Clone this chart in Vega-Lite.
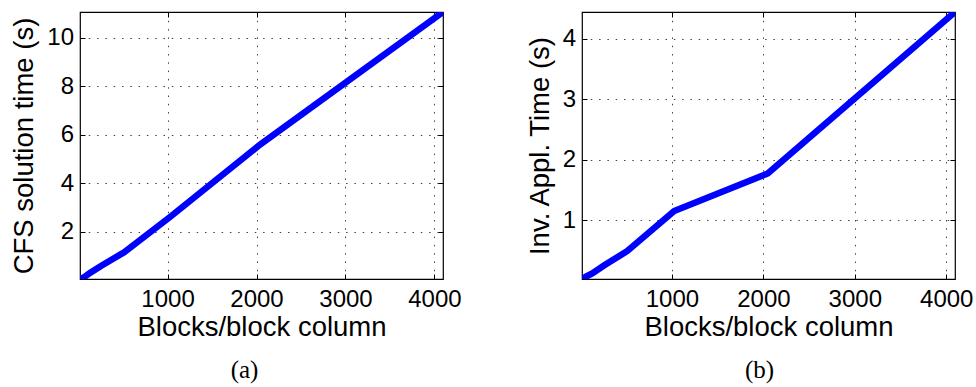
{
  "$schema": "https://vega.github.io/schema/vega-lite/v6.json",
  "padding": {"left": 10, "top": 10, "right": 2, "bottom": 0},
  "background": "white",
  "config": {
    "view": {"stroke": "black", "strokeWidth": 1.2},
    "font": "Liberation Sans",
    "axis": {
      "labelFont": "Liberation Sans",
      "labelFontSize": 24,
      "labelColor": "black",
      "titleFont": "Liberation Sans",
      "titleFontSize": 27.5,
      "titleFontWeight": "normal",
      "titleColor": "black",
      "domain": false,
      "ticks": true,
      "tickSize": -5,
      "tickColor": "black",
      "grid": true,
      "gridColor": "#444444",
      "gridDash": [1.5, 6.8],
      "gridWidth": 1
    },
    "axisX": {"labelPadding": 13, "titlePadding": 2},
    "axisY": {"labelPadding": 11.5, "titlePadding": 8},
    "title": {
      "font": "Liberation Serif",
      "fontSize": 25,
      "fontWeight": "normal",
      "color": "black",
      "orient": "bottom",
      "anchor": "middle",
      "offset": 17
    },
    "concat": {"spacing": 63}
  },
  "datasets": {
    "cfs": [
      {"blocks": 16, "time": 0.02},
      {"blocks": 32, "time": 0.06},
      {"blocks": 64, "time": 0.13},
      {"blocks": 128, "time": 0.3},
      {"blocks": 256, "time": 0.6},
      {"blocks": 512, "time": 1.15},
      {"blocks": 1024, "time": 2.6},
      {"blocks": 2048, "time": 5.62},
      {"blocks": 4096, "time": 11.07}
    ],
    "inv": [
      {"blocks": 16, "time": 0.02},
      {"blocks": 32, "time": 0.04},
      {"blocks": 64, "time": 0.07},
      {"blocks": 128, "time": 0.12},
      {"blocks": 256, "time": 0.25},
      {"blocks": 512, "time": 0.49},
      {"blocks": 1024, "time": 1.15},
      {"blocks": 2048, "time": 1.77},
      {"blocks": 4096, "time": 4.44}
    ]
  },
  "hconcat": [
    {
      "title": {"text": "(a)", "dx": -17},
      "width": 363,
      "height": 267,
      "data": {"name": "cfs"},
      "resolve": {"axis": {"x": "independent", "y": "independent"}},
      "layer": [
        {
          "mark": {"type": "line", "color": "#0000ff", "strokeWidth": 6.5, "clip": true},
          "encoding": {
            "x": {
              "field": "blocks", "type": "quantitative",
              "scale": {"domain": [16, 4096], "nice": false, "zero": false},
              "axis": {"values": [1000, 2000, 3000, 4000], "format": "d", "title": "Blocks/block column"}
            },
            "y": {
              "field": "time", "type": "quantitative",
              "scale": {"domain": [0.05, 11.07], "nice": false, "zero": false},
              "axis": {"values": [2, 4, 6, 8, 10], "format": "d", "title": "CFS solution time (s)"}
            }
          }
        },
        {
          "mark": {"type": "line", "opacity": 0, "clip": true},
          "encoding": {
            "x": {
              "field": "blocks", "type": "quantitative",
              "axis": {"orient": "top", "values": [1000, 2000, 3000, 4000], "labels": false, "title": null, "grid": false}
            },
            "y": {
              "field": "time", "type": "quantitative",
              "axis": {"orient": "right", "values": [2, 4, 6, 8, 10], "labels": false, "title": null, "grid": false}
            }
          }
        }
      ]
    },
    {
      "title": {"text": "(b)", "dx": -9},
      "width": 373,
      "height": 267,
      "data": {"name": "inv"},
      "resolve": {"axis": {"x": "independent", "y": "independent"}},
      "layer": [
        {
          "mark": {"type": "line", "color": "#0000ff", "strokeWidth": 6.5, "clip": true},
          "encoding": {
            "x": {
              "field": "blocks", "type": "quantitative",
              "scale": {"domain": [16, 4096], "nice": false, "zero": false},
              "axis": {"values": [1000, 2000, 3000, 4000], "format": "d", "title": "Blocks/block column"}
            },
            "y": {
              "field": "time", "type": "quantitative",
              "scale": {"domain": [0.027, 4.44], "nice": false, "zero": false},
              "axis": {"values": [1, 2, 3, 4], "format": "d", "title": "Inv. Appl. Time (s)"}
            }
          }
        },
        {
          "mark": {"type": "line", "opacity": 0, "clip": true},
          "encoding": {
            "x": {
              "field": "blocks", "type": "quantitative",
              "axis": {"orient": "top", "values": [1000, 2000, 3000, 4000], "labels": false, "title": null, "grid": false}
            },
            "y": {
              "field": "time", "type": "quantitative",
              "axis": {"orient": "right", "values": [1, 2, 3, 4], "labels": false, "title": null, "grid": false}
            }
          }
        }
      ]
    }
  ]
}
